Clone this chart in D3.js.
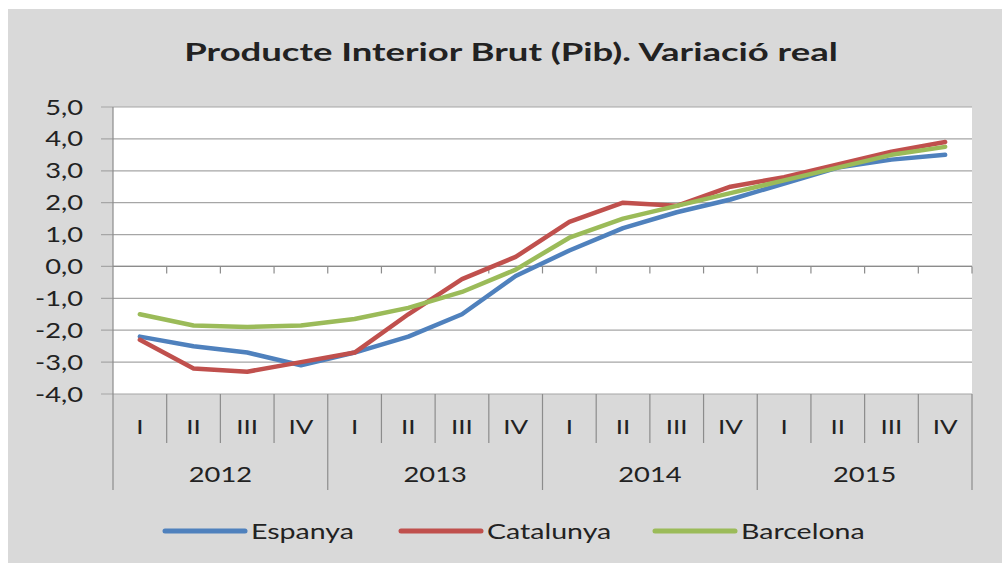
<!DOCTYPE html>
<html>
<head>
<meta charset="utf-8">
<script src="https://cdn.jsdelivr.net/npm/d3@7"></script>
<style>
  body { margin: 0; background: #fff; }
  svg text { font-family: Lato, "Open Sans", sans-serif; fill: #222; }
</style>
</head>
<body>
<div id="chart"></div>
<script>
// values
const years = ['2012', '2013', '2014', '2015']
const quarters = ['I', 'II', 'III', 'IV']
const yTicks = [-4, -3, -2, -1, 0, 1, 2, 3, 4, 5]
const espanya = [-2.2, -2.5, -2.7, -3.1, -2.7, -2.2, -1.5, -0.3, 0.5, 1.2, 1.7, 2.1, 2.6, 3.1, 3.35, 3.5]
const catalunya = [-2.3, -3.2, -3.3, -3.0, -2.7, -1.5, -0.4, 0.3, 1.4, 2.0, 1.9, 2.5, 2.8, 3.2, 3.6, 3.9]
const barcelona = [-1.5, -1.85, -1.9, -1.85, -1.65, -1.3, -0.8, -0.1, 0.9, 1.5, 1.9, 2.3, 2.7, 3.1, 3.5, 3.75]
const seriesNames = ['Espanya', 'Catalunya', 'Barcelona']
const colors = ['#4f81bd', '#c0504d', '#9bbb59']

const width = 1002
const height = 563
const sx = 1.3 // the original picture is stretched sideways

const plot = { left: 113, right: 972, top: 107, bottom: 394 }

const cats = []
years.forEach(y => quarters.forEach(q => cats.push(y + '-' + q)))

const svg = d3.select('#chart').append('svg')
    .attr('width', width).attr('height', height)

svg.append('rect').attr('x', 8).attr('y', 9)
    .attr('width', width - 8).attr('height', height - 9)
    .attr('fill', '#d9d9d9')

svg.append('rect').attr('x', plot.left).attr('y', plot.top)
    .attr('width', plot.right - plot.left).attr('height', plot.bottom - plot.top)
    .attr('fill', '#fff')

const x = d3.scaleBand().domain(cats).range([plot.left, plot.right])
const y = d3.scaleLinear().domain([-4, 5]).range([plot.bottom, plot.top])
const bw = x.bandwidth()

// stretched text helper
const label = (sel, px, py, s) => sel.attr('transform', `translate(${px},${py}) scale(${s || sx},1)`)

// title
label(svg.append('text')
    .attr('text-anchor', 'middle')
    .style('font-size', '25px').style('font-weight', 'bold')
    .text('Producte Interior Brut (Pib). Variació real'), 511, 61, 1.46)

// gridlines + y ticks
svg.append('g').selectAll('line').data(yTicks).enter().append('line')
    .attr('x1', plot.left - 12).attr('x2', plot.right)
    .attr('y1', d => y(d)).attr('y2', d => y(d))
    .attr('stroke', '#a6a6a6').attr('stroke-width', 1.2)

svg.append('g').selectAll('text').data(yTicks).enter().append('text')
    .attr('text-anchor', 'end')
    .style('font-size', '21px')
    .text(d => d.toFixed(1).replace('.', ','))
    .each(function (d) { label(d3.select(this), 83, y(d) + 7.5) })

// vertical axis line
svg.append('line')
    .attr('x1', plot.left).attr('x2', plot.left)
    .attr('y1', plot.top).attr('y2', 490)
    .attr('stroke', '#8c8c8c').attr('stroke-width', 1.2)

// horizontal axis at zero with tick marks
svg.append('line')
    .attr('x1', plot.left).attr('x2', plot.right)
    .attr('y1', y(0)).attr('y2', y(0))
    .attr('stroke', '#8c8c8c').attr('stroke-width', 1.2)

svg.append('g').selectAll('line').data(cats).enter().append('line')
    .attr('x1', d => x(d) + bw).attr('x2', d => x(d) + bw)
    .attr('y1', y(0)).attr('y2', y(0) + 7)
    .attr('stroke', '#8c8c8c').attr('stroke-width', 1.2)

// category separators below the plot
svg.append('g').selectAll('line').data(cats).enter().append('line')
    .attr('x1', d => x(d) + bw).attr('x2', d => x(d) + bw)
    .attr('y1', plot.bottom)
    .attr('y2', (d, i) => (i + 1) % 4 === 0 ? 490 : 443)
    .attr('stroke', '#8c8c8c').attr('stroke-width', 1.2)

// quarter labels
svg.append('g').selectAll('text').data(cats).enter().append('text')
    .attr('text-anchor', 'middle')
    .style('font-size', '20px')
    .text(d => d.split('-')[1])
    .each(function (d) { label(d3.select(this), x(d) + bw / 2, 434) })

// year labels
svg.append('g').selectAll('text').data(years).enter().append('text')
    .attr('text-anchor', 'middle')
    .style('font-size', '21px')
    .text(d => d)
    .each(function (d) { label(d3.select(this), x(d + '-II') + bw, 482) })

// lines
const line = d3.line()
    .x((d, i) => x(cats[i]) + bw / 2)
    .y(d => y(d))

const allSeries = [espanya, catalunya, barcelona]
svg.append('g').selectAll('path').data(allSeries).enter().append('path')
    .attr('d', d => line(d))
    .attr('fill', 'none')
    .attr('stroke', (d, i) => colors[i])
    .attr('stroke-width', 4.5)
    .attr('stroke-linejoin', 'round')
    .attr('stroke-linecap', 'round')

// legend
const legendX = [165, 401, 655]
const leg = svg.append('g').selectAll('g').data(seriesNames).enter().append('g')
leg.append('line')
    .attr('x1', (d, i) => legendX[i]).attr('x2', (d, i) => legendX[i] + 80)
    .attr('y1', 531).attr('y2', 531)
    .attr('stroke', (d, i) => colors[i])
    .attr('stroke-width', 5).attr('stroke-linecap', 'round')
leg.append('text')
    .style('font-size', '21px')
    .text(d => d)
    .each(function (d, i) { label(d3.select(this), legendX[i] + 86, 539, 1.36) })
</script>
</body>
</html>
